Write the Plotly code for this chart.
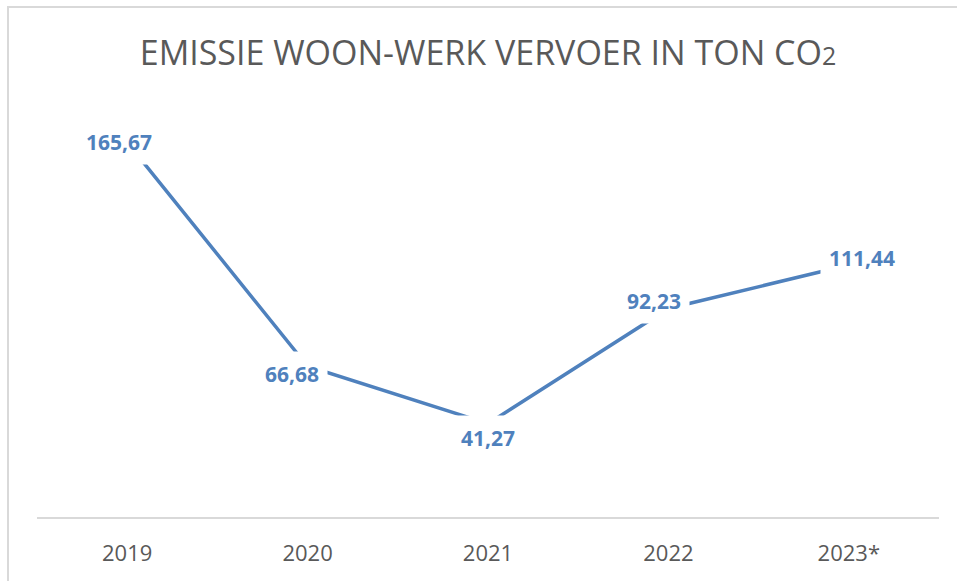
import plotly.graph_objects as go

years = ["2019", "2020", "2021", "2022", "2023*"]
emissions = [165.67, 66.68, 41.27, 92.23, 111.44]
labels = ["165,67", "66,68", "41,27", "92,23", "111,44"]

# label offsets in pixels (x, y) relative to each point
label_shift_x = [-8, -16, 0, -14, 13]
label_shift_y = [0, -8, -14, 7, 7]

BLUE = "#4F81BD"
GRAY = "#595959"
FONT = "Open Sans"

W, H = 957, 581
L, R, T, B = 37, 18, 110, 64
pw, ph = W - L - R, H - T - B

fig = go.Figure()
fig.add_trace(go.Scatter(
    x=years, y=emissions, mode="lines",
    line=dict(color=BLUE, width=3.5),
    hoverinfo="skip", showlegend=False,
))

for i, (v, t, dx, dy) in enumerate(zip(emissions, labels, label_shift_x, label_shift_y)):
    fig.add_annotation(
        x=i, y=v, text=f"<b>{t}</b>", showarrow=False,
        xshift=dx, yshift=dy, bgcolor="white", borderpad=8,
        font=dict(family=FONT, size=21, color=BLUE),
    )

# chart border (light gray frame)
fig.add_shape(
    type="rect", xref="paper", yref="paper",
    x0=(8 - L) / pw, x1=(W + 10 - L) / pw,
    y0=(H - B - (H + 10)) / ph, y1=(H - B - 7) / ph,
    line=dict(color="#D9D9D9", width=2), fillcolor="rgba(0,0,0,0)", layer="below",
)

fig.update_layout(
    width=W, height=H,
    margin=dict(l=L, r=R, t=T, b=B),
    paper_bgcolor="white", plot_bgcolor="white",
    title=dict(
        text="EMISSIE WOON-WERK VERVOER IN TON CO<span style='font-size:25px'>2</span>",
        x=0.5, xref="paper", xanchor="center",
        y=1 - 53 / H, yref="container", yanchor="middle",
        font=dict(family=FONT, size=34, color=GRAY),
    ),
    xaxis=dict(
        type="category", range=[-0.5, 4.5],
        showgrid=False, zeroline=False,
        showline=True, linecolor="#D9D9D9", linewidth=2,
        ticks="", ticklabelstandoff=16,
        tickfont=dict(family=FONT, size=22, color=GRAY),
        fixedrange=True,
    ),
    yaxis=dict(
        range=[0, 180], visible=False, showgrid=False, zeroline=False,
        fixedrange=True,
    ),
)

fig.write_html("out.html")
